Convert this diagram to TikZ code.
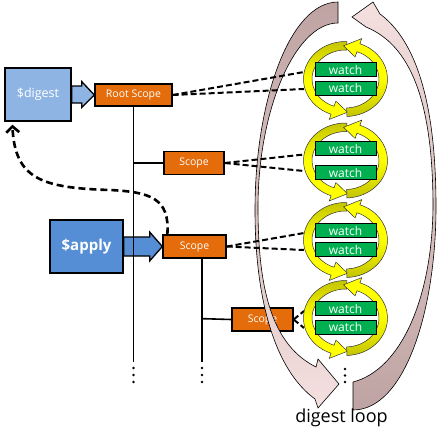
\documentclass[tikz,border=0pt]{standalone}
\usepackage{fontspec}
\setmainfont{Open Sans}
\usetikzlibrary{calc,arrows.meta}
\definecolor{lblue}{HTML}{8EB4E3}
\definecolor{dblue}{HTML}{558ED5}
\definecolor{orng}{HTML}{E46C0A}
\definecolor{grn}{HTML}{00B050}
\definecolor{ylw}{HTML}{FFFF00}
\definecolor{olv}{HTML}{C4C400}
\definecolor{mauve}{HTML}{BFA3A3}
\definecolor{lpink}{HTML}{F4E0DF}
\newcommand{\yloop}[1]{%
  \shadedraw[loopB] ($(#1)+(272:42 and 37.5)$) arc[start angle=272, end angle=110, x radius=42, y radius=37.5]
    -- ($(#1)+(110:47.5 and 43)$) -- ($(#1)+(87:37.75 and 33.25)$) -- ($(#1)+(110:28 and 23.5)$)
    -- ($(#1)+(110:33.5 and 29)$) arc[start angle=110, end angle=272, x radius=33.5, y radius=29] -- cycle;
  \shadedraw[loopA] ($(#1)+(88:42 and 37.5)$) arc[start angle=88, end angle=-70, x radius=42, y radius=37.5]
    -- ($(#1)+(-70:47.5 and 43)$) -- ($(#1)+(-93:37.75 and 33.25)$) -- ($(#1)+(-70:28 and 23.5)$)
    -- ($(#1)+(-70:33.5 and 29)$) arc[start angle=-70, end angle=88, x radius=33.5, y radius=29] -- cycle;
}
\begin{document}
\begin{tikzpicture}[x=1pt,y=-1pt,
  bigbox/.style={draw=black, line width=1.3pt, text=white, inner sep=0pt},
  scopebox/.style={draw=black, line width=1.3pt, fill=orng, text=white, inner sep=0pt,
    minimum height=23pt, font=\fontsize{10.5}{12}\selectfont},
  watchbox/.style={draw=black, line width=1pt, fill=grn, text=white, inner sep=0pt,
    minimum width=61pt, minimum height=14pt, font=\fontsize{12}{13}\selectfont},
  blockarrow/.style={draw=black, line width=1.3pt, line join=miter},
  treeline/.style={draw=black, line width=1.6pt},
  dashline/.style={draw=black, line width=2pt, dash pattern=on 6pt off 3pt},
  backline/.style={draw=black, line width=2.6pt, dash pattern=on 7pt off 4pt},
  loopA/.style={draw=black!80, line width=0.5pt, top color=ylw, bottom color=olv, middle color=ylw},
  loopB/.style={draw=black!80, line width=0.5pt, top color=olv, bottom color=ylw, middle color=ylw},
  bigL/.style={draw=black, line width=0.6pt, top color=mauve, bottom color=lpink},
  bigR/.style={draw=black, line width=0.6pt, top color=lpink, bottom color=mauve},
  dotstyle/.style={fill=black}]
\useasboundingbox (0,0) rectangle (438,434);
\fill[white] (0,0) rectangle (438,434);

% main boxes
\node[bigbox, fill=lblue, minimum width=66pt, minimum height=53pt, font=\fontsize{12.5}{14}\selectfont] (digest) at (38,94.5) {\$digest};
\node[bigbox, fill=dblue, minimum width=73pt, minimum height=53pt, font=\fontsize{15}{17}\selectfont\bfseries] (apply) at (86.5,246.5) {\$apply};
\node[scopebox, minimum width=77pt, minimum height=22pt] (root) at (133.5,95) {Root Scope};
\node[scopebox, minimum width=60pt] (scope1) at (194,163) {Scope};
\node[scopebox, minimum width=63pt] (scope2) at (194.5,246.5) {Scope};
\node[scopebox, minimum width=61pt] (scope3) at (262.5,319.5) {Scope};

% block arrows
\draw[blockarrow, fill=lblue] ($(digest.east)+(0,-8.5)$) -- ++(10,0) -- ++(0,-4.5) -- (root.west)
  -- ($(digest.east)+(10,13)$) -- ++(0,-4.5) -- ($(digest.east)+(0,8.5)$) -- cycle;
\draw[blockarrow, fill=dblue] ($(apply.east)+(0,-9.5)$) -- ++(26,0) -- ++(0,-5) -- (scope2.west)
  -- ($(apply.east)+(26,14.5)$) -- ++(0,-5) -- ($(apply.east)+(0,9.5)$) -- cycle;

% tree lines
\coordinate (t1end) at (133.5,362);
\coordinate (t2top) at ($(scope2.south)+(7.5,0)$);
\coordinate (t2end) at ($(t2top)+(0,103)$);
\coordinate (t2mid) at ($(t2top)+(0,60)$);
\draw[treeline] (root.south) -- (t1end);
\draw[treeline] (root.south |- scope1.west) -- (scope1.west);
\draw[treeline] (t2top) -- (t2end);
\draw[treeline] (t2mid) -- (scope3.west);

% watch group centres
\coordinate (c1) at (345.5,79);
\coordinate (c2) at (345.5,160.5);
\coordinate (c3) at (345.5,240);
\coordinate (c4) at (345.5,318);

% big digest loop arcs
\shadedraw[bigL] (338,2) .. controls (290,2) and (255,100) .. (255,210)
  .. controls (255,300) and (275,370) .. (315,399) -- (318,408) -- (339,384) -- (318,359) -- (316,367)
  .. controls (272,345) and (258,290) .. (258,207) .. controls (258,110) and (295,23) .. (338,23) -- cycle;
\shadedraw[bigR] (353,410) .. controls (405,410) and (436,310) .. (436,207)
  .. controls (436,100) and (415,40) .. (380,14) -- (373,2) -- (352,17) -- (366,27)
  .. controls (410,45) and (433,100) .. (433,207) .. controls (432,300) and (400,370) .. (353,382) -- cycle;

% dashed watch links
\coordinate (d1a) at ($(c1)+(-41.5,-7)$);
\coordinate (d1b) at ($(c1)+(-41.5,10)$);
\coordinate (d2a) at ($(c2)+(-41.5,-6)$);
\coordinate (d2b) at ($(c2)+(-41.5,10.5)$);
\coordinate (d3a) at ($(c3)+(-41.5,-7)$);
\coordinate (d3b) at ($(c3)+(-41.5,10)$);
\coordinate (d4a) at ($(c4)+(-41.5,-7)$);
\coordinate (d4b) at ($(c4)+(-41.5,10)$);
\draw[dashline] (root.east) -- (d1a);
\draw[dashline] (root.east) -- (d1b);
\draw[dashline] (scope1.east) -- (d2a);
\draw[dashline] (scope1.east) -- (d2b);
\draw[dashline] (scope2.east) -- (d3a);
\draw[dashline] (scope2.east) -- (d3b);
\draw[dashline] (scope3.east) -- (d4a);
\draw[dashline] (scope3.east) -- (d4b);

% dashed return arrow
\coordinate (cs) at ($(scope2.north west)+(5,0)$);
\coordinate (ce) at ($(digest.south west)+(8,3)$);
\draw[backline, -{Straight Barb[length=6pt,width=13pt]}] (cs) .. controls (170,198) and (150,192) .. (110,190)
  .. controls (40,188) and (15,178) .. (ce);

% yellow loops
\yloop{c1}
\yloop{c2}
\yloop{c3}
\yloop{c4}

% watch boxes
\node[watchbox] (w1a) at ($(c1)+(0,-9.5)$) {watch};
\node[watchbox] (w1b) at ($(c1)+(0,9)$) {watch};
\node[watchbox] (w2a) at ($(c2)+(0,-12)$) {watch};
\node[watchbox] (w2b) at ($(c2)+(0,12)$) {watch};
\node[watchbox] (w3a) at ($(c3)+(0,-9.5)$) {watch};
\node[watchbox] (w3b) at ($(c3)+(0,9.5)$) {watch};
\node[watchbox] (w4a) at ($(c4)+(0,-9.5)$) {watch};
\node[watchbox] (w4b) at ($(c4)+(0,9)$) {watch};

% continuation dots
\foreach \x in {133.5,202} {
  \foreach \y in {368,375,382} { \fill[dotstyle] (\x,\y) circle[radius=1.4]; }
}
\foreach \y in {369,375.5,382} { \fill[dotstyle] (345,\y) circle[radius=1.4]; }

\node[font=\fontsize{18}{20}\selectfont, anchor=base, inner sep=0pt] (looplabel) at (341.5,422) {digest loop};
\end{tikzpicture}
\end{document}
